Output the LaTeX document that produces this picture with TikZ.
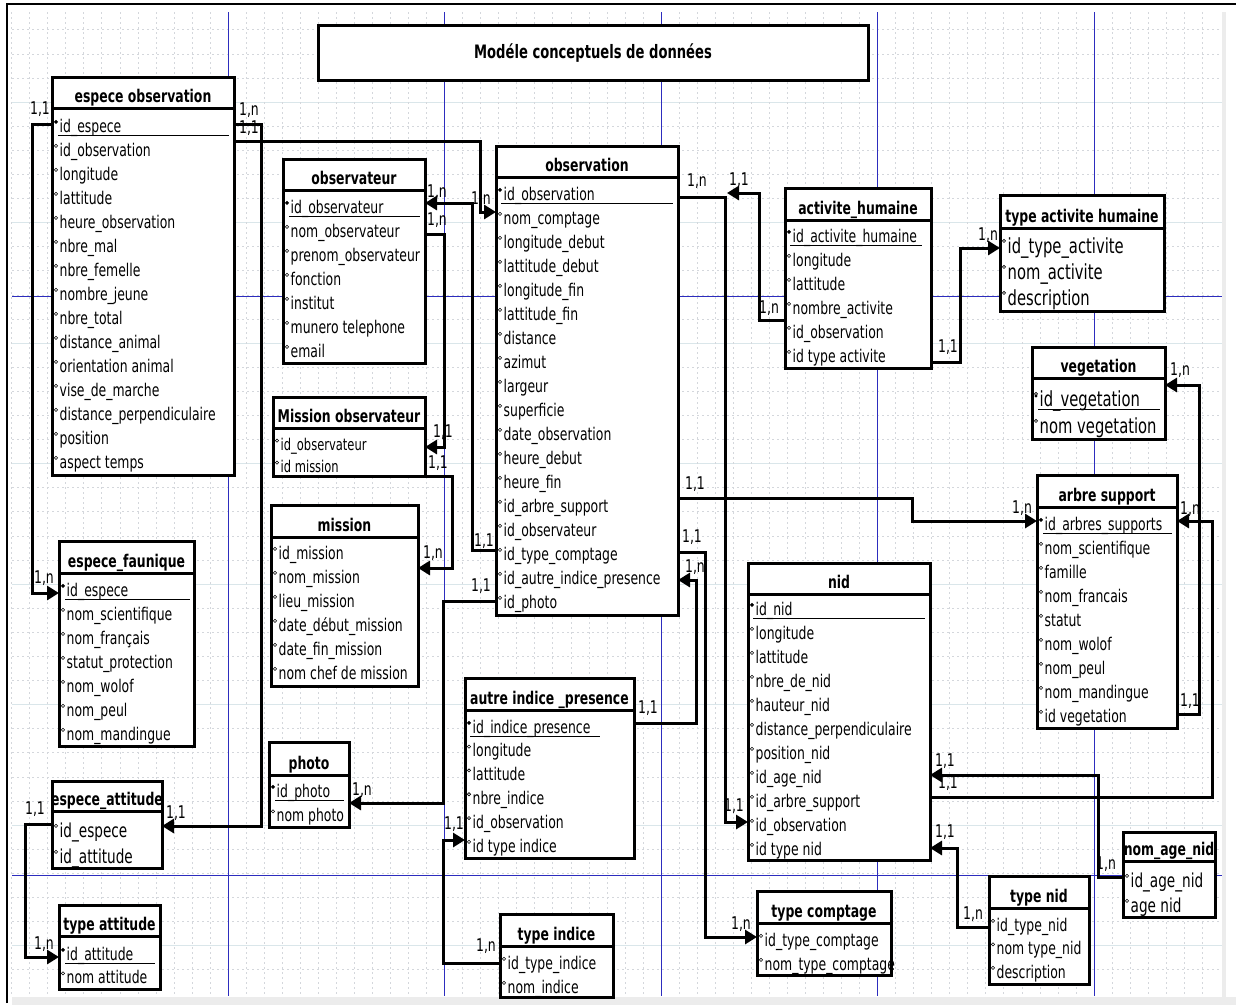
\documentclass[tikz,border=0pt]{standalone}
\usepackage{fontspec}
\setmainfont{DejaVu Sans}[FakeStretch=0.71]
\usetikzlibrary{arrows.meta}
\definecolor{guide}{RGB}{45,45,190}
\definecolor{gridc}{RGB}{212,215,220}
\definecolor{gridm}{RGB}{218,230,234}
\tikzset{
  ebox/.style={draw, fill=white, line width=3pt, inner sep=0pt, outer sep=0pt, anchor=north west},
  hdr/.style={line width=3pt},
  ttl/.style={font=\bfseries\fontsize{17.5}{17.5}\selectfont, inner sep=0pt, anchor=base},
  attr/.style={inner sep=0pt, anchor=base west},
  attrmark/.style={line width=0.6pt},
  keyline/.style={line width=1pt},
  conn/.style={line width=3pt, -{Triangle[length=12pt,width=14pt]}},
  card/.style={font=\fontsize{17.5}{17.5}\selectfont, inner sep=0pt},
  gridl/.style={gridc, line width=0.5pt, dash pattern=on 2pt off 3pt},
  gridM/.style={gridm, line width=0.7pt},
  guideline/.style={guide, line width=0.8pt}
}
\newcommand\entity[7]{%
  \node[ebox, minimum width={(#4)-(#2)}, minimum height={(#5)-(#3)}] (#1) at (#2,#3) {};
  \draw[hdr] (#2,#6) -- (#4,#6);
  \node[ttl] (#1-t) at ({(#2+#4)/2},{#6-5.5}) {#7};
}
\newcommand\attrs[6]{%
  \foreach \atxt [count=\ai] in {#6} {
    \node[attr, font=\fontsize{#5}{#5}\selectfont] (#1-a\ai) at ({#2+7.5},{#3+#4*(\ai-1)}) {\atxt};
    \draw[attrmark] ({#2+4},{#3+#4*(\ai-1)-0.58*#5}) circle (1.6pt);
  }
}
\newcommand\keyu[4]{% left, x1, x2, baseline
  \fill ({#1+4},{#4-10}) circle (1.7pt);
  \draw[keyline] (#2,{#4+3.5}) -- (#3,{#4+3.5});
}
\begin{document}
\begin{tikzpicture}[x=1pt,y=-1pt]
\useasboundingbox (0,0) rectangle (1236,1005);
% background grid
\foreach \k in {1,...,40} { \draw[gridl] (12,{5.6+24.1*\k}) -- (1222,{5.6+24.1*\k}); }
\foreach \k in {4,9,...,39} { \draw[gridM] (12,{5.6+24.1*\k}) -- (1222,{5.6+24.1*\k}); }
\foreach \k in {-12,...,54} { \draw[gridl] ({228+18.04*\k},12) -- ({228+18.04*\k},996); }
% page guides
\foreach \gx in {228,444,661,877,1094} { \draw[guideline] (\gx,12) -- (\gx,996); }
\foreach \gy in {296,875} { \draw[guideline] (12,\gy) -- (1222,\gy); }
% frame
\fill[gray!15] (12,997) rectangle (1236,1005);
\fill[gray!15] (1222,12) rectangle (1226,997);
\draw[line width=1.2pt] (7,1003) -- (7,4) -- (1236,4);

% title
\node[ebox, minimum width=550, minimum height=55] (titlebox) at (318,25) {};
\node[ttl, font=\bfseries\fontsize{18.5}{18.5}\selectfont] (title) at (593,58) {Modéle conceptuels de données};

% espece observation
\entity{eo}{52}{77}{234}{475}{108}{espece observation}
\attrs{eo}{52}{132}{24}{17.5}{id\_espece,id\_observation,longitude,lattitude,heure\_observation,nbre\_mal,nbre\_femelle,nombre\_jeune,nbre\_total,distance\_animal,orientation animal,vise\_de\_marche,distance\_perpendiculaire,position,aspect temps}
\keyu{52}{58}{229}{132}

% observateur
\entity{obsr}{283}{159}{425}{363}{190}{observateur}
\attrs{obsr}{283}{213}{24}{17.5}{id\_observateur,nom\_observateur,prenom\_observateur,fonction,institut,munero telephone,email}
\keyu{283}{289}{420}{213}

% Mission observateur
\entity{mobs}{273}{397}{425}{476}{428}{Mission observateur}
\attrs{mobs}{273}{450}{22}{16.2}{id\_observateur,id mission}

% mission
\entity{miss}{271}{505}{418}{686}{537}{mission}
\attrs{miss}{271}{559}{24}{17.5}{id\_mission,nom\_mission,lieu\_mission,date\_début\_mission,date\_fin\_mission,nom chef de mission}

% observation
\entity{obs}{496}{146}{678}{615}{177}{observation}
\attrs{obs}{496}{200}{24}{17.5}{id\_observation,nom\_comptage,longitude\_debut,lattitude\_debut,longitude\_fin,lattitude\_fin,distance,azimut,largeur,superficie,date\_observation,heure\_debut,heure\_fin,id\_arbre\_support,id\_observateur,id\_type\_comptage,id\_autre\_indice\_presence,id\_photo}
\keyu{496}{501}{673}{200}

% activite humaine
\entity{act}{785}{188}{931}{368}{220}{activite\_humaine}
\attrs{act}{785}{242}{24}{17.5}{id\_activite\_humaine,longitude,lattitude,nombre\_activite,id\_observation,id type activite}
\keyu{785}{790}{922}{242}

% type activite humaine
\entity{tah}{1000}{195}{1164}{311}{228}{type activite humaine}
\attrs{tah}{1000}{253}{26}{20.8}{id\_type\_activite,nom\_activite,description}

% vegetation
\entity{veg}{1032}{347}{1165}{439}{378}{vegetation}
\attrs{veg}{1032}{406}{27}{20.8}{id\_vegetation,nom vegetation}
\keyu{1032}{1038}{1160}{406}

% arbre support
\entity{arb}{1037}{475}{1177}{728}{507}{arbre support}
\attrs{arb}{1037}{530}{24}{17.5}{id\_arbres\_supports,nom\_scientifique,famille,nom\_francais,statut,nom\_wolof,nom\_peul,nom\_mandingue,id vegetation}
\keyu{1037}{1043}{1172}{530}

% nid
\entity{nid}{748}{563}{930}{860}{594}{nid}
\attrs{nid}{748}{615}{24}{17.5}{id\_nid,longitude,lattitude,nbre\_de\_nid,hauteur\_nid,distance\_perpendiculaire,position\_nid,id\_age\_nid,id\_arbre\_support,id\_observation,id type nid}
\keyu{748}{753}{925}{615}

% espece faunique
\entity{ef}{59}{541}{194}{746}{573}{espece\_faunique}
\attrs{ef}{59}{596}{24}{17.5}{id\_espece,nom\_scientifique,nom\_français,statut\_protection,nom\_wolof,nom\_peul,nom\_mandingue}
\keyu{59}{65}{190}{596}

% espece_attitude
\entity{ea}{52}{781}{162}{868}{811}{espece\_attitude}
\attrs{ea}{52}{837}{26}{19.2}{id\_espece,id\_attitude}

% type attitude
\entity{ta}{59}{905}{160}{989}{936}{type attitude}
\attrs{ta}{59}{960}{23.5}{17.5}{id\_attitude,nom attitude}
\keyu{59}{65}{155}{960}

% photo
\entity{pho}{269}{742}{349}{827}{775}{photo}
\attrs{pho}{269}{797}{24.5}{17.5}{id\_photo,nom photo}
\keyu{269}{275}{344}{797}

% autre indice presence
\entity{aip}{465}{678}{634}{858}{710}{autre indice \_presence}
\attrs{aip}{465}{733}{23.8}{17.5}{id\_indice\_presence,longitude,lattitude,nbre\_indice,id\_observation,id type indice}
\keyu{465}{470}{600}{733}

% type indice
\entity{ti}{500}{914}{613}{997}{946}{type indice}
\attrs{ti}{500}{969}{24}{17.5}{id\_type\_indice,nom\_indice}

% type comptage
\entity{tc}{757}{891}{891}{975}{923}{type comptage}
\attrs{tc}{757}{946}{24}{17.5}{id\_type\_comptage,nom\_type\_comptage}

% type nid
\entity{tn}{989}{876}{1089}{984}{908}{type nid}
\attrs{tn}{989}{931}{23.5}{17.5}{id\_type\_nid,nom type\_nid,description}

% nom_age_nid
\entity{nan}{1123}{832}{1215}{917}{861}{nom\_age\_nid}
\attrs{nan}{1123}{887}{25}{19.2}{id\_age\_nid,age nid}

% connectors
\coordinate (j11) at (727,193);
\draw[conn] (eo.west |- 0,124) -- (32,124) -- (32,593) -- (ef.west |- 0,593);
\draw[conn] (eo.east |- 0,141) -- (480,141) -- (480,212) -- (obs.west |- 0,212);
\draw[conn] (eo.east |- 0,124) -- (261,124) -- (261,826) -- (ea.east |- 0,826);
\draw[conn] (ea.west |- 0,824) -- (25,824) -- (25,957) -- (ta.west |- 0,957);
\draw[conn] (obs.west |- 0,550) -- (472,550) -- (472,203) -- (obsr.east |- 0,203);
\draw[conn] (obsr.east |- 0,234) -- (444,234) -- (444,447) -- (mobs.east |- 0,447);
\draw[conn] (mobs.east |- 0,476) -- (452,476) -- (452,568) -- (miss.east |- 0,568);
\draw[conn] (obs.west |- 0,601) -- (443,601) -- (443,803) -- (pho.east |- 0,803);
\draw[conn] (ti.west |- 0,963) -- (443,963) -- (443,840) -- (aip.west |- 0,840);
\draw[conn] (obs.east |- 0,552) -- (705,552) -- (705,937) -- (tc.west |- 0,937);
\draw[conn] (aip.east |- 0,723) -- (696,723) -- (696,580) -- (obs.east |- 0,580);
\draw[conn] (obs.east |- 0,197) -- (725,197) -- (725,822) -- (nid.west |- 0,822);
\draw[conn] (act.west |- 0,320) -- (759,320) -- (759,193) -- (j11);
\draw[conn] (act.east |- 0,362) -- (960,362) -- (960,248) -- (tah.west |- 0,248);
\draw[conn] (obs.east |- 0,498) -- (912,498) -- (912,521) -- (arb.west |- 0,521);
\draw[conn] (arb.east |- 0,714) -- (1199,714) -- (1199,385) -- (veg.east |- 0,385);
\draw[conn] (nid.east |- 0,797) -- (1212,797) -- (1212,521) -- (arb.east |- 0,521);
\draw[conn] (nan.west |- 0,877) -- (1098,877) -- (1098,775) -- (nid.east |- 0,775);
\draw[conn] (tn.west |- 0,927) -- (957,927) -- (957,848) -- (nid.east |- 0,848);

% cardinalities
\node[card] (k1) at (40,109) {1,1};
\node[card] (k2) at (44,578) {1,n};
\node[card] (k3) at (249,110) {1,n};
\node[card] (k4) at (481,199) {1,n};
\node[card] (k5) at (249,128) {1,1};
\node[card] (k6) at (176,813) {1,1};
\node[card] (k7) at (35,809) {1,1};
\node[card] (k8) at (44,944) {1,n};
\node[card] (k9) at (437,192) {1,n};
\node[card] (k10) at (484,541) {1,1};
\node[card] (k11) at (437,220) {1,n};
\node[card] (k12) at (443,432) {1,1};
\node[card] (k13) at (438,463) {1,1};
\node[card] (k14) at (433,553) {1,n};
\node[card] (k15) at (481,586) {1,1};
\node[card] (k16) at (362,790) {1,n};
\node[card] (k17) at (454,824) {1,1};
\node[card] (k18) at (486,946) {1,n};
\node[card] (k19) at (692,537) {1,1};
\node[card] (k20) at (741,924) {1,n};
\node[card] (k21) at (648,708) {1,1};
\node[card] (k22) at (695,567) {1,n};
\node[card] (k23) at (697,181) {1,n};
\node[card] (k24) at (734,806) {1,1};
\node[card] (k25) at (739,180) {1,1};
\node[card] (k26) at (769,308) {1,n};
\node[card] (k27) at (948,347) {1,1};
\node[card] (k28) at (988,235) {1,n};
\node[card] (k29) at (695,484) {1,1};
\node[card] (k30) at (1022,508) {1,n};
\node[card] (k31) at (1190,701) {1,1};
\node[card] (k32) at (1180,370) {1,n};
\node[card] (k33) at (948,783) {1,1};
\node[card] (k34) at (1190,509) {1,n};
\node[card] (k35) at (945,761) {1,1};
\node[card] (k36) at (1106,864) {1,n};
\node[card] (k37) at (945,832) {1,1};
\node[card] (k38) at (973,914) {1,n};
\end{tikzpicture}
\end{document}
